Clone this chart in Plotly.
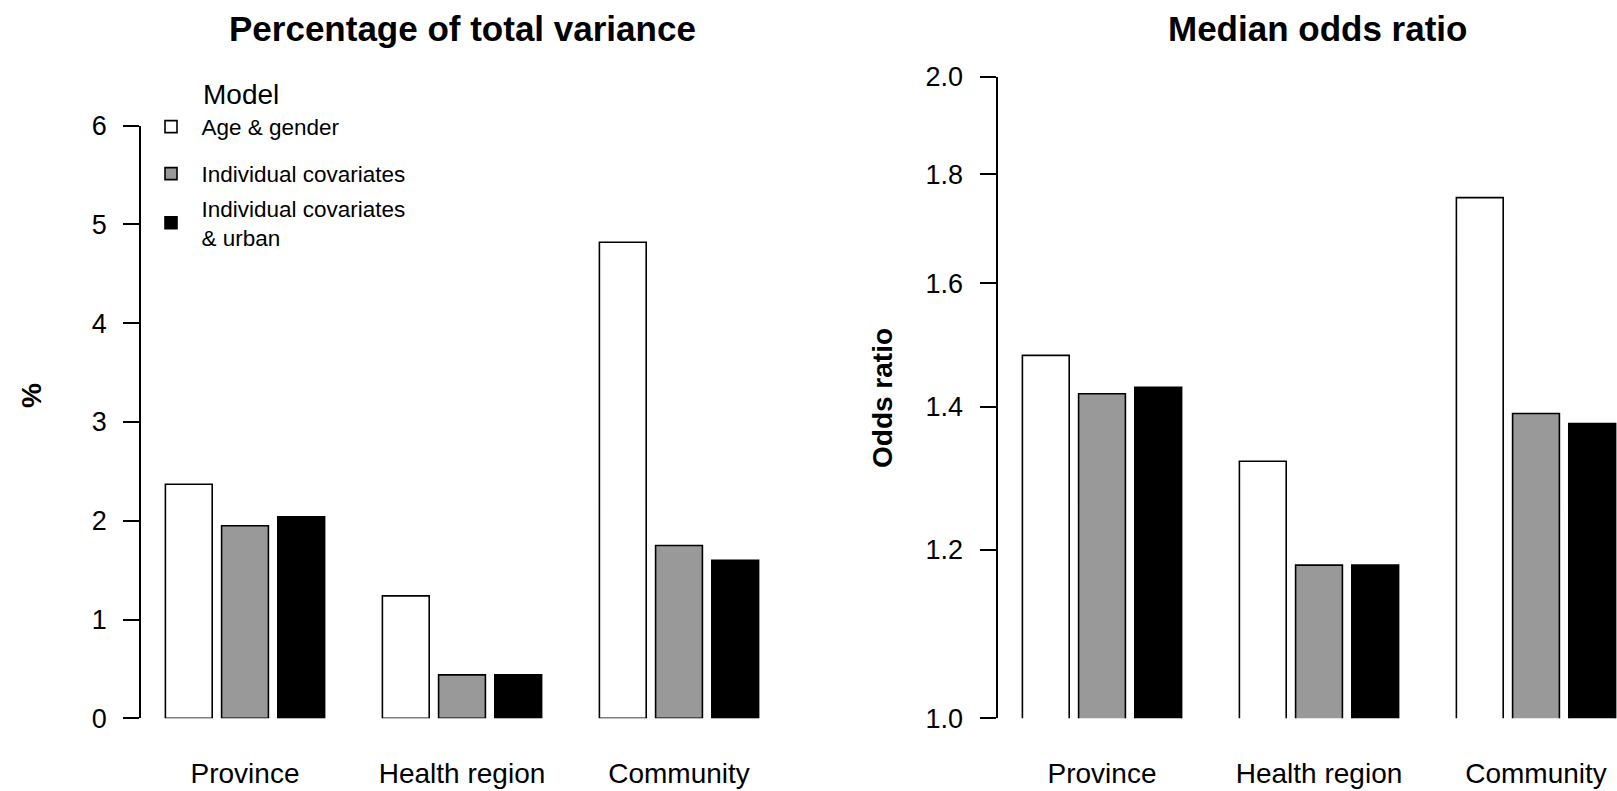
import plotly.graph_objects as go

# Data
categories = ["Province", "Health region", "Community"]
models = ["Age & gender", "Individual covariates", "Individual covariates<br>& urban"]
fill_colors = ["#ffffff", "#999999", "#000000"]

# Percentage of total variance (%)
pct_age_gender = [2.37, 1.24, 4.82]
pct_individual = [1.95, 0.44, 1.75]
pct_individual_urban = [2.04, 0.44, 1.60]

# Median odds ratio
mor_age_gender = [1.48, 1.32, 1.755]
mor_individual = [1.42, 1.18, 1.39]
mor_individual_urban = [1.43, 1.18, 1.375]

pct_ticks = [0, 1, 2, 3, 4, 5, 6]
mor_ticks = [1.0, 1.2, 1.4, 1.6, 1.8, 2.0]
mor_tick_text = ["1.0", "1.2", "1.4", "1.6", "1.8", "2.0"]

W, H = 1617, 791
FONT = "Liberation Sans, Arial, Helvetica, sans-serif"


def px_x(p):
    return p / W


def px_y(p):
    return (H - p) / H


pct_series = [pct_age_gender, pct_individual, pct_individual_urban]
mor_series = [mor_age_gender, mor_individual, mor_individual_urban]
legend_ids = ["legend", "legend2", "legend3"]

fig = go.Figure()
for i in range(3):
    fig.add_trace(go.Bar(
        x=categories, y=pct_series[i], name=models[i],
        marker=dict(color=fill_colors[i], line=dict(color="black", width=1.6)),
        xaxis="x", yaxis="y", legend=legend_ids[i], showlegend=True,
        cliponaxis=False,
    ))
for i in range(3):
    fig.add_trace(go.Bar(
        x=categories, y=mor_series[i], name=models[i],
        marker=dict(color=fill_colors[i], line=dict(color="black", width=1.6)),
        xaxis="x2", yaxis="y2", showlegend=False,
    ))

yaxis_common = dict(
    showline=True, linecolor="black", linewidth=2,
    ticks="outside", ticklen=16, tickwidth=2, tickcolor="black",
    showgrid=False, zeroline=False, automargin=False,
    tickfont=dict(family=FONT, size=27, color="black"),
    ticklabelstandoff=11,
)
xaxis_common = dict(
    type="category", showline=False, showgrid=False, zeroline=False, ticks="",
    automargin=False,
    tickfont=dict(family=FONT, size=28, color="black"),
    ticklabelstandoff=36,
)

legend_common = dict(
    bgcolor="rgba(0,0,0,0)", borderwidth=0, itemwidth=51,
    font=dict(family=FONT, size=22.5, color="black"),
    xanchor="left", yanchor="middle", x=px_x(140.5),
    itemclick=False, itemdoubleclick=False,
)

fig.update_layout(
    width=W, height=H,
    margin=dict(l=0, r=0, t=0, b=0, autoexpand=False),
    paper_bgcolor="white", plot_bgcolor="white",
    barmode="group", bargap=0.223, bargroupgap=0.167,
    xaxis=dict(domain=[px_x(141.3), px_x(783.7)], range=[-0.4779, 2.4825],
               anchor="y", **xaxis_common),
    yaxis=dict(domain=[px_y(718.3), px_y(125.7)], range=[0, 6], anchor="x",
               tickvals=pct_ticks, **yaxis_common),
    xaxis2=dict(domain=[px_x(997.5), 1.0], range=[-0.4816, 2.3733],
                anchor="y2", **xaxis_common),
    yaxis2=dict(domain=[px_y(718.3), px_y(76.7)], type="log",
                range=[0, 0.30103], anchor="x2",
                tickvals=mor_ticks, ticktext=mor_tick_text, **yaxis_common),
    legend=dict(y=px_y(127), **legend_common),
    legend2=dict(y=px_y(174), **legend_common),
    legend3=dict(y=px_y(223), **legend_common),
    annotations=[
        dict(text="<b>Percentage of total variance</b>", x=px_x(462), y=px_y(28),
             xref="paper", yref="paper", xanchor="center", yanchor="middle",
             showarrow=False, font=dict(family=FONT, size=35, color="black")),
        dict(text="<b>Median odds ratio</b>", x=px_x(1317), y=px_y(28),
             xref="paper", yref="paper", xanchor="center", yanchor="middle",
             showarrow=False, font=dict(family=FONT, size=35, color="black")),
        dict(text="<b>%</b>", x=px_x(31), y=px_y(396), textangle=-90,
             xref="paper", yref="paper", xanchor="center", yanchor="middle",
             showarrow=False, font=dict(family=FONT, size=28, color="black")),
        dict(text="<b>Odds ratio</b>", x=px_x(883), y=px_y(398), textangle=-90,
             xref="paper", yref="paper", xanchor="center", yanchor="middle",
             showarrow=False, font=dict(family=FONT, size=28, color="black")),
        dict(text="Model", x=px_x(200.5), y=px_y(94),
             xref="paper", yref="paper", xanchor="left", yanchor="middle",
             showarrow=False, font=dict(family=FONT, size=28, color="black")),
    ],
)

fig.write_html("out.html")
